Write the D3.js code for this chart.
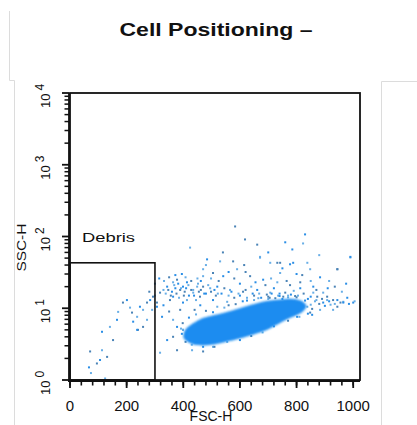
<!DOCTYPE html>
<html>
<head>
<meta charset="utf-8">
<script src="https://cdn.jsdelivr.net/npm/d3@7"></script>
<style>
  body { margin: 0; background: #fff; }
  svg { display: block; }
  text { font-family: "Liberation Sans", Arial, sans-serif; fill: #111; }
</style>
</head>
<body>
<div class="chart"></div>
<script>
// Titel och axlar
const title = "Cell Positioning \u2013";
const xLabel = "FSC-H";
const yLabel = "SSC-H";
const xTicks = [0, 200, 400, 600, 800, 1000];
const xMinorTicks = d3.range(0, 1024, 40);
const yDecades = [0, 1, 2, 3, 4];

// Gate "Debris"
const gateName = "Debris";
const gateFsc = [0, 300];
const gateSsc = [1, 43];

// Den täta huvudpopulationen (kontur)
const coreFsc = [402, 410, 465, 530, 590, 654, 707, 777, 815, 835, 818, 760, 690, 600, 500, 440];
const coreSsc = [3.8, 5.2, 7.2, 8.4, 9.8, 11.6, 12.8, 13.6, 12.8, 10.8, 8.7, 6.8, 4.9, 3.8, 3.1, 3.1];

// Enstaka händelser (FSC-H, SSC-H)
const events = [
  [71,2.5],[67,1.5],[74,1.25],[95,1.7],[106,1.9],[113,2.6],[131,2.1],[113,4.7],[141,5.5],[152,3.6],
  [166,6.9],[170,8.9],[187,12],[201,13],[212,10.2],[219,8.7],[223,6.5],[237,7.6],[240,5.0],[247,10.5],
  [258,9.5],[272,12],[283,13],[290,9.5],[293,14.5],[307,10.5],[272,6.9],[258,5.5],[237,5.0],[124,1.05],
  [318,16.5],[343,20],[364,23],[389,18],[413,23],[435,16.5],[353,13],[399,12],[449,20],[307,12],
  [325,7.6],[364,6.9],[399,5.0],[413,4.0],[431,2.6],[378,2.6],[343,3.6],[318,2.4],
  [583,138],[830,107],[424,70],[618,91],[760,83],[823,80],[661,77],[785,66],[990,51],[944,35],
  [484,48],[530,45],[576,45],[671,51],[707,43],[742,43],[788,43],[848,35],[820,29],[883,27],
  [470,35],[505,31],[541,28],[590,35],[636,28],[682,25],[732,23],[777,21],[813,19],[859,16.5],
  [908,14.5],[944,13],[965,12.3],[378,25],[399,20],[435,18],[470,20],[520,20],[565,18],[611,17],
  [661,18],[707,16.5],[753,14.5],[364,14.5],[413,13],[459,14.5],[505,13],[555,12.3],[389,9.5],
  [378,5.5],[399,5.0],[364,4.0],[424,3.6],[505,2.9],[470,2.5],[894,12],[929,9.5],[848,8.7],[802,7.6],
  [671,52],[732,43],[777,41],[838,43],[944,35],[990,52],[742,31],[813,23],[859,20],[894,16.5],
  [929,13],[965,12],[908,13],[873,14.5],[1000,12],[838,10.5],[802,9.5],[855,8.1],[883,9.5],[944,10.5],
  [979,14],[330,18],[356,15],[372,19],[385,14],[405,17],[420,15],[445,13],[455,17],[480,16],
  [495,19],[515,15],[535,16],[560,15],[580,14],[600,15],[625,14],[650,15],[675,14],[700,13.5],
  [725,13.8],[750,13.5],[770,15],[795,14.8],[840,13.5],[865,12.5],[880,11.5],[900,10.8],[920,11.2],
  [440,9.5],[460,11],[520,10.5],[560,11],[610,12.5],[650,13],[700,14.5],[740,16],[790,17.5],[350,9],
  [330,11],[300,15],[280,17],[395,30],[450,26],[525,24],[600,22],[640,20],[690,21],[720,19],[850,24],
  [870,18],[910,19],[960,17],[540,60],[700,60],[880,55],[615,40],[560,32],[470,28],[430,4.6],[455,4.2],
  [338,16],[347,18],[360,17],[368,21],[376,16],[382,22],[392,19],[402,15],[410,19],[418,21],
  [428,18],[438,15],[452,22],[462,18],[474,16],[488,21],[498,17],[510,18],[522,16],[545,19],
  [570,17],[595,16],[620,18],[645,16],[668,16],[695,15.5],[712,16],[735,15],[760,16.5],[780,15.5],
  [805,15],[825,16],[850,14.5],[870,13],[890,13.5],[915,12.5],[935,11.5],[955,12],[985,11.5],[1005,12.5],
  [398,6.2],[420,7.4],[445,8.2],[480,9.2],[505,8.8],[545,10.2],[585,11.4],[625,12.8],[665,13.8],[705,14],
  [740,14.8],[770,14.2],[800,14.2],[830,12.8],[850,11.2],[855,9.8],[840,8.4],[810,7.6],[770,6.7],[720,5.6],
  [680,4.6],[640,4.1],[600,3.6],[555,3.4],[510,2.9],[470,2.9],[430,3.1],[408,3.4],[395,4.4],[392,5.2],
  [300,22],[315,26],[332,24],[350,27],[372,29],[408,27],[428,24],[462,24],[498,26],[580,26],
  [655,23],[710,26],[765,24],[800,30],[915,24],[935,20],[975,22],[480,40],[620,32],[750,36]
];

const margin = {top: 93, right: 57, bottom: 45, left: 70};
const W = 417, H = 425;
const width = W - margin.left - margin.right;
const height = H - margin.top - margin.bottom;

const svg = d3.select("div.chart").append("svg")
  .attr("width", W)
  .attr("height", H);

// Ramlinjer från bildskärmsdumpen
const frame = svg.append("g")
  .attr("fill", "none")
  .attr("stroke", "#dcdcdc")
  .attr("stroke-width", 1);
frame.append("path").attr("d", "M9.5,11 V80.5 H14.5 V425");
frame.append("path").attr("d", "M417,81.5 H381.5 V425");

// Titel
svg.append("text")
  .attr("x", 216)
  .attr("y", 36)
  .attr("text-anchor", "middle")
  .attr("textLength", 193)
  .attr("lengthAdjust", "spacingAndGlyphs")
  .style("font-size", "18px")
  .style("font-weight", "bold")
  .text(title);

const g = svg.append("g")
  .attr("transform", `translate(${margin.left},${margin.top})`);

const x = d3.scaleLinear()
  .domain([0, 1024])
  .range([0, width]);

const y = d3.scaleLog()
  .domain([1, 10000])
  .range([height, 0]);

const defs = svg.append("defs");
defs.append("filter").attr("id", "soft")
  .append("feGaussianBlur").attr("stdDeviation", 1.1);

// Enstaka händelser
g.append("g")
  .selectAll("rect")
  .data(events)
  .enter()
  .append("rect")
  .attr("x", d => x(d[0]) - 1)
  .attr("y", d => y(d[1]) - 1)
  .attr("width", 2)
  .attr("height", 2)
  .attr("fill", (d, i) => i % 3 === 0 ? "#4a83b6" : (i % 3 === 1 ? "#2a8ee6" : "#68aee6"));

// Huvudpopulationen
const core = coreFsc.map((v, i) => [v, coreSsc[i]]);
g.append("path")
  .datum(core)
  .attr("d", d3.line().x(d => x(d[0])).y(d => y(d[1])).curve(d3.curveCardinalClosed.tension(0.2)))
  .attr("fill", "#1a8cf0")
  .attr("filter", "url(#soft)");

// Ram runt plottytan
g.append("rect")
  .attr("x", 0)
  .attr("y", 0)
  .attr("width", width)
  .attr("height", height)
  .attr("fill", "none")
  .attr("stroke", "#111")
  .attr("stroke-width", 1.8);

// Gate
g.append("rect")
  .attr("x", x(gateFsc[0]))
  .attr("y", y(gateSsc[1]))
  .attr("width", x(gateFsc[1]) - x(gateFsc[0]))
  .attr("height", y(gateSsc[0]) - y(gateSsc[1]))
  .attr("fill", "none")
  .attr("stroke", "#111")
  .attr("stroke-width", 1.6);

g.append("text")
  .attr("x", 12)
  .attr("y", y(gateSsc[1]) - 21)
  .attr("textLength", 53)
  .attr("lengthAdjust", "spacingAndGlyphs")
  .style("font-size", "13px")
  .text(gateName);

// X-axel
const xAxis = g.append("g").attr("transform", `translate(0,${height + 1})`);
xAxis.append("line")
  .attr("x1", -2).attr("x2", width)
  .attr("stroke", "#111").attr("stroke-width", 1.8);
xAxis.selectAll("line.minor")
  .data(xMinorTicks)
  .enter().append("line")
  .attr("x1", d => x(d)).attr("x2", d => x(d))
  .attr("y1", 0).attr("y2", 4.5)
  .attr("stroke", "#111").attr("stroke-width", 1.6);
xAxis.selectAll("line.major")
  .data(xTicks)
  .enter().append("line")
  .attr("x1", d => x(d)).attr("x2", d => x(d))
  .attr("y1", 0).attr("y2", 7)
  .attr("stroke", "#111").attr("stroke-width", 1.8);
xAxis.selectAll("text")
  .data(xTicks)
  .enter().append("text")
  .attr("x", d => x(d))
  .attr("y", 30)
  .attr("text-anchor", "middle")
  .style("font-size", "15px")
  .text(d => d);

g.append("text")
  .attr("x", 141)
  .attr("y", height + 41)
  .attr("text-anchor", "middle")
  .style("font-size", "14px")
  .text(xLabel);

// Y-axel (logaritmisk)
const yAxis = g.append("g").attr("transform", "translate(-1,0)");
yAxis.append("line")
  .attr("y1", 0).attr("y2", height + 2)
  .attr("stroke", "#111").attr("stroke-width", 1.8);
const yMinor = [];
yDecades.slice(0, -1).forEach(e => d3.range(2, 10).forEach(m => yMinor.push(m * Math.pow(10, e))));
yAxis.selectAll("line.minor")
  .data(yMinor)
  .enter().append("line")
  .attr("y1", d => y(d)).attr("y2", d => y(d))
  .attr("x1", 0).attr("x2", -4.5)
  .attr("stroke", "#111").attr("stroke-width", 1.5);
yAxis.selectAll("line.major")
  .data(yDecades)
  .enter().append("line")
  .attr("y1", d => y(Math.pow(10, d))).attr("y2", d => y(Math.pow(10, d)))
  .attr("x1", 0).attr("x2", -7)
  .attr("stroke", "#111").attr("stroke-width", 1.8);
const yLab = yAxis.selectAll("text")
  .data(yDecades)
  .enter().append("text")
  .attr("transform", d => `translate(-19,${y(Math.pow(10, d)) + 15}) rotate(-90)`)
  .attr("text-anchor", "start")
  .style("font-size", "13px");
yLab.append("tspan").text("10");
yLab.append("tspan")
  .attr("dx", 3)
  .attr("dy", -6)
  .style("font-size", "12px")
  .text(d => d);

g.append("text")
  .attr("transform", `translate(-44,${y(70)}) rotate(-90)`)
  .attr("text-anchor", "middle")
  .attr("textLength", 48)
  .attr("lengthAdjust", "spacingAndGlyphs")
  .style("font-size", "13px")
  .text(yLabel);
</script>
</body>
</html>
